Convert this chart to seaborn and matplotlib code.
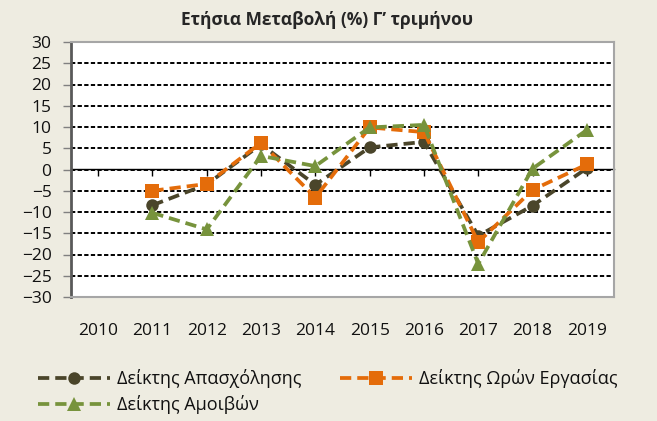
import matplotlib
matplotlib.use('Agg')
import matplotlib.pyplot as plt
import seaborn as sns

# Annual change (%) for Q3, categories 2010-2019 (2010 has no value)
years = [2010, 2011, 2012, 2013, 2014, 2015, 2016, 2017, 2018, 2019]
data_years = [2011, 2012, 2013, 2014, 2015, 2016, 2017, 2018, 2019]
employment = [-8.4, -3.5, 5.9, -3.6, 5.2, 6.5, -15.6, -8.5, 0.3]
hours = [-5.0, -3.4, 6.3, -6.6, 9.9, 8.8, -17.1, -4.8, 1.2]
wages = [-10.2, -14.1, 3.2, 0.8, 9.9, 10.5, -22.2, 0.2, 9.3]

series_names = ['Δείκτης Απασχόλησης', 'Δείκτης Ωρών Εργασίας', 'Δείκτης Αμοιβών']
title = 'Ετήσια Μεταβολή (%) Γ’ τριμήνου'
y_ticks = list(range(-30, 31, 5))

bg = '#EEECE1'
colors = ['#4A452A', '#E46C0A', '#77933C']
markers = ['o', 's', '^']
msizes = [9, 9.5, 10.5]

sns.set_theme(style='white')
plt.rcParams['font.family'] = ['Open Sans', 'DejaVu Sans']

fig = plt.figure(figsize=(6.57, 4.21), dpi=100, facecolor=bg)
ax = fig.add_axes([71 / 657, 1 - 297 / 421, 543 / 657, 255 / 421])
ax.set_facecolor('white')

for vals, name, c, m, ms in zip([employment, hours, wages], series_names, colors, markers, msizes):
    sns.lineplot(x=data_years, y=vals, ax=ax, color=c, marker=m, markersize=ms,
                 markeredgecolor=c, markeredgewidth=0, linewidth=2.7,
                 linestyle=(0, (3.0, 1.6)), label=name)

ax.set_xlim(years[0] - 0.5, years[-1] + 0.5)
ax.set_ylim(y_ticks[0], y_ticks[-1])
ax.set_yticks(y_ticks)
ax.set_xticks(years, labels=[str(y) for y in years])
ax.set_xlabel('')
ax.set_ylabel('')

ax.yaxis.grid(True, color='black', linestyle=(0, (2.2, 1.2)), linewidth=1.4)
ax.xaxis.grid(False)
ax.set_axisbelow(True)

ax.tick_params(axis='y', direction='out', length=6, width=1, color='#808080',
               labelsize=12.5, pad=8, left=True, labelcolor='#111111')
ax.tick_params(axis='x', length=0, labelsize=12.5, pad=19, labelcolor='#111111')

for side in ['top', 'right', 'bottom']:
    ax.spines[side].set_color('#A6A6A6')
    ax.spines[side].set_linewidth(1.5)
ax.spines['left'].set_color('#595959')
ax.spines['left'].set_linewidth(2)

# category axis crossing at zero
lo, hi = ax.get_ylim()
sec = ax.secondary_xaxis((0 - lo) / (hi - lo))
sec.set_xticks(years, labels=[])
sec.tick_params(direction='in', length=5, width=1, color='black')
for sp in sec.spines.values():
    sp.set_color('black')
    sp.set_linewidth(1)

handles, labels = ax.get_legend_handles_labels()
ax.get_legend().remove()
order = [0, 2, 1]
fig.legend([handles[i] for i in order], [labels[i] for i in order],
           loc='lower left', bbox_to_anchor=(0.033, -0.022), ncol=2, frameon=False,
           fontsize=13, handlelength=4.0, columnspacing=2.1, handletextpad=0.4,
           labelspacing=0.38, labelcolor='#111111')

fig.suptitle(title, fontsize=12.5, fontweight='bold', x=0.497, y=0.975)

fig.savefig('out.png', dpi=100, facecolor=bg)
